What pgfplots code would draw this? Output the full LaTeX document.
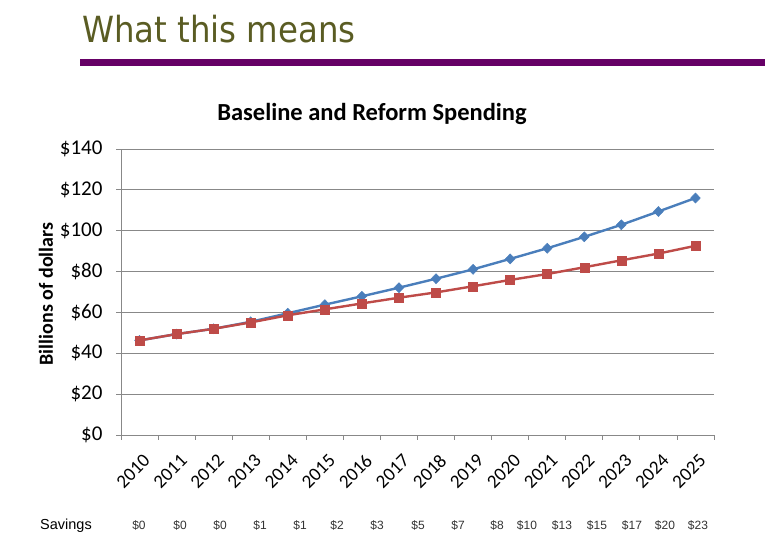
\documentclass[border=0pt]{standalone}
\usepackage{pgfplots}
\pgfplotsset{compat=1.18}
\usepackage{fontspec}
\setmainfont{Carlito}
\newfontfamily\headfont{DejaVu Sans Condensed}
\newfontfamily\arialfont{Liberation Sans}

\definecolor{headolive}{HTML}{5A5C23}
\definecolor{rulepurple}{HTML}{660066}
\definecolor{baseblue}{HTML}{4A7EBB}
\definecolor{reformred}{HTML}{BE4B48}
\definecolor{gridgray}{HTML}{888888}

\begin{document}
\begin{tikzpicture}[x=1bp,y=1bp]
\useasboundingbox (0,0) rectangle (768,546);

% slide heading and rule
\node[anchor=base west, inner sep=0, text=headolive,
      font=\headfont\fontsize{36bp}{42bp}\selectfont] at (82,503) {What this means};
\fill[rulepurple] (80,480) rectangle (765,487);

% chart title and y label
\node[anchor=base, inner sep=0, font=\bfseries\fontsize{24.5bp}{29bp}\selectfont]
  at (372,425) {Baseline and Reform Spending};
\node[rotate=90, anchor=center, inner sep=0, font=\bfseries\fontsize{20bp}{24bp}\selectfont]
  at (46,252) {Billions of dollars};

\begin{axis}[
  at={(121bp,111bp)}, anchor=south west,
  scale only axis, width=593bp, height=286bp,
  xmin=-0.5, xmax=15.5, ymin=0, ymax=140,
  axis x line*=bottom, axis y line*=left,
  axis line style={gridgray, line width=0.8bp, -},
  tick align=outside, major tick length=5bp,
  tick style={gridgray, line width=0.8bp},
  xtick={-0.5,0.5,...,15.5},
  x tick label as interval,
  xticklabels={2010,2011,2012,2013,2014,2015,2016,2017,2018,2019,2020,2021,2022,2023,2024,2025},
  xticklabel style={xshift=8bp, yshift=-17bp, rotate=45, anchor=east, inner sep=1bp,
                    font=\fontsize{19bp}{23bp}\selectfont},
  ytick={0,20,...,140},
  yticklabels={\$0,\$20,\$40,\$60,\$80,\$100,\$120,\$140},
  yticklabel style={xshift=-10bp, font=\fontsize{21bp}{25bp}\selectfont},
  ymajorgrids, grid style={gridgray, line width=0.8bp},
  clip=false,
]
% baseline spending
\addplot[baseblue, line width=2.4bp, mark=diamond*, mark size=5bp,
         mark options={fill=baseblue, draw=baseblue, line width=0.5bp, xscale=1.3}]
  coordinates {
  (0,46.3) (1,49.4) (2,52.0) (3,55.4) (4,59.6) (5,63.8) (6,67.9) (7,72.1)
  (8,76.5) (9,81.1) (10,86.2) (11,91.4) (12,97.0) (13,102.9) (14,109.4) (15,116.0)
  };
% reform spending
\addplot[reformred, line width=2.4bp, mark=square*, mark size=4.5bp,
         mark options={fill=reformred, draw=reformred, line width=0.5bp}]
  coordinates {
  (0,46.3) (1,49.4) (2,52.0) (3,55.1) (4,58.6) (5,61.5) (6,64.4) (7,67.2)
  (8,69.8) (9,72.8) (10,75.9) (11,78.8) (12,82.1) (13,85.5) (14,88.8) (15,92.6)
  };
\end{axis}

% savings row
\node[anchor=base west, inner sep=0, font=\arialfont\fontsize{14.5bp}{17bp}\selectfont]
  at (40,16) {Savings};
\foreach \xx/\lab in {139/0,180/0,220/0,260/1,300/1,337/2,377/3,418/5,458/7,497/8,
                      527/10,562/13,597/15,632/17,665/20,698/23}{
  \node[anchor=base, inner sep=0, text=black!80,
        font=\arialfont\fontsize{12bp}{14bp}\selectfont] at (\xx,16) {\$\lab};
}
\end{tikzpicture}
\end{document}
